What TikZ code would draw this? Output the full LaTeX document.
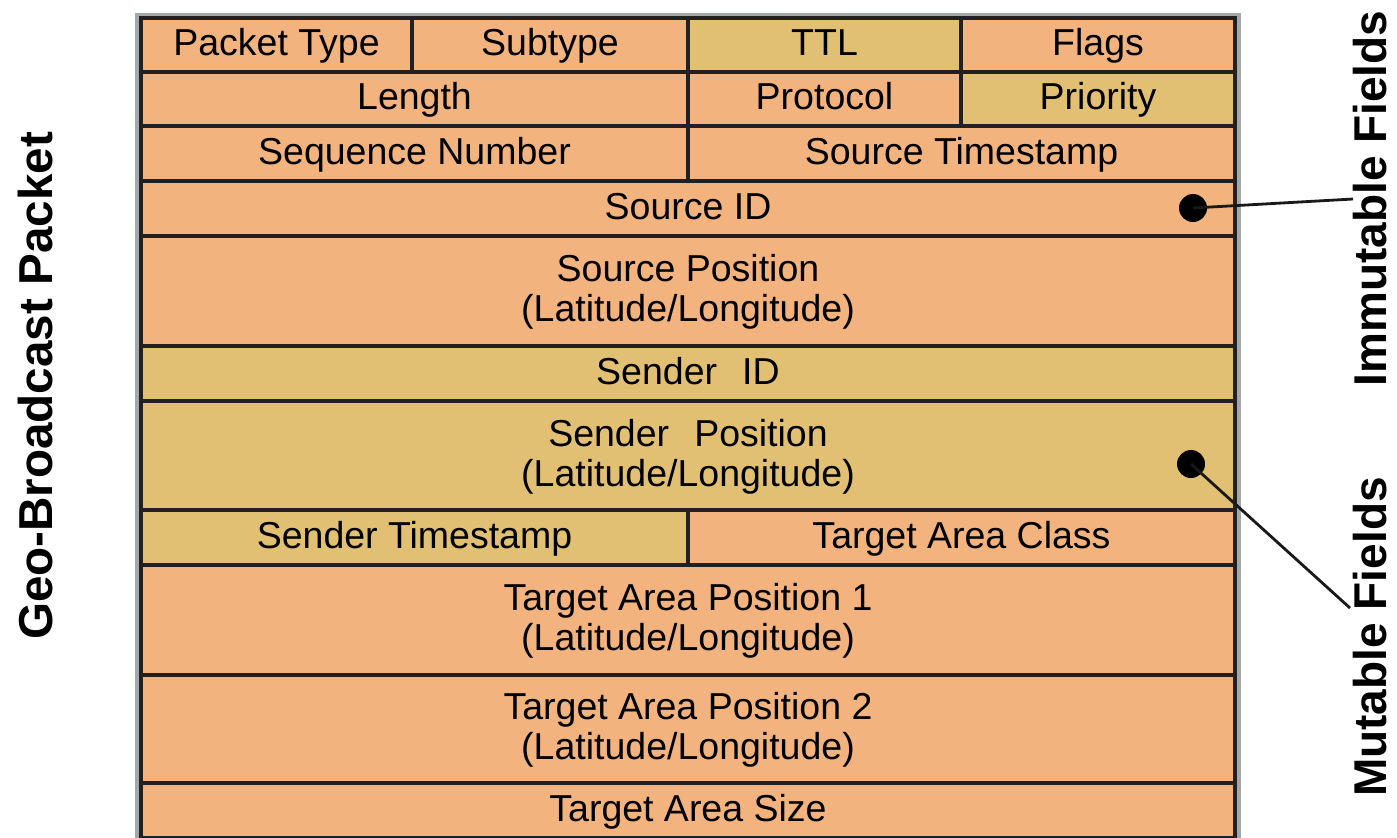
\documentclass[tikz,border=0pt]{standalone}
\usepackage{fontspec}
\setmainfont{Liberation Sans}
\definecolor{fieldorange}{HTML}{F3B37F}
\definecolor{fieldgold}{HTML}{E2C073}
\definecolor{gridline}{HTML}{222020}
\definecolor{frameshade}{HTML}{A3A8AC}
\newcommand{\cellfont}{\fontsize{18.75pt}{20pt}\selectfont}
% one field of the header: name, x1, y1, x2, y2, fill colour, text
\newcommand{\pktfield}[7]{%
  \path[fieldbox, fill=#6] (#2,#3) rectangle (#4,#5);
  \node[fld] (#1) at ({(#2+#4)/2},{(#3+#5)/2+1}) {#7};}
\newcommand{\pktfieldtwo}[7]{%
  \path[fieldbox, fill=#6] (#2,#3) rectangle (#4,#5);
  \node[fldtwo] (#1) at ({(#2+#4)/2},{(#3+#5)/2+1}) {#7};}
\begin{document}
\begin{tikzpicture}[x=0.5pt, y=-0.5pt,
  fieldbox/.style={draw=gridline, line width=2pt},
  fld/.style={font=\cellfont, text=black, inner sep=0pt, text height=13.7pt, text depth=3.9pt},
  fldtwo/.style={font=\cellfont, text=black, inner sep=0pt, align=center},
  sidelabel/.style={font=\bfseries\fontsize{23.8pt}{28pt}\selectfont, inner sep=0pt, rotate=90, anchor=base},
  marker/.style={circle, fill=black, inner sep=0pt, minimum size=14pt},
  pointer/.style={draw=black!90, line width=1.4pt}]
\useasboundingbox (0,0) rectangle (1397,837);
\clip (0,0) rectangle (1397,837);
\fill[white] (0,0) rectangle (1397,837);

% grey shading round the frame
\fill[frameshade] (135,13) rectangle (1241,845);

% row 1
\pktfield{ptype}{141}{18}{412}{72}{fieldorange}{Packet Type}
\pktfield{stype}{412}{18}{688}{72}{fieldorange}{Subtype}
\pktfield{ttl}{688}{18}{961}{72}{fieldgold}{TTL}
\pktfield{flags}{961}{18}{1235}{72}{fieldorange}{Flags}
% row 2
\pktfield{len}{141}{72}{688}{126}{fieldorange}{Length}
\pktfield{proto}{688}{72}{961}{126}{fieldorange}{Protocol}
\pktfield{prio}{961}{72}{1235}{126}{fieldgold}{Priority}
% row 3
\pktfield{seq}{141}{126}{688}{181}{fieldorange}{Sequence Number}
\pktfield{srcts}{688}{126}{1235}{181}{fieldorange}{Source Timestamp}
% rows 4 to 11
\pktfield{srcid}{141}{181}{1235}{236}{fieldorange}{Source ID}
\pktfieldtwo{srcpos}{141}{236}{1235}{346}{fieldorange}{Source Position\\(Latitude/Longitude)}
\pktfield{sndid}{141}{346}{1235}{401}{fieldgold}{Sender\hspace{0.67em}ID}
\pktfieldtwo{sndpos}{141}{401}{1235}{510}{fieldgold}{Sender\hspace{0.67em}Position\\(Latitude/Longitude)}
\pktfield{sndts}{141}{510}{688}{565}{fieldgold}{Sender Timestamp}
\pktfield{tclass}{688}{510}{1235}{565}{fieldorange}{Target Area Class}
\pktfieldtwo{tpos1}{141}{565}{1235}{675}{fieldorange}{Target Area Position 1\\(Latitude/Longitude)}
\pktfieldtwo{tpos2}{141}{675}{1235}{783}{fieldorange}{Target Area Position 2\\(Latitude/Longitude)}
\pktfield{tsize}{141}{783}{1235}{838}{fieldorange}{Target Area Size}

% side labels
\node[sidelabel] (packet) at (52,386) {Geo-Broadcast Packet};
\node[sidelabel, font=\bfseries\fontsize{23pt}{28pt}\selectfont] (immut) at (1386,198.5) {Immutable Fields};
\node[sidelabel, font=\bfseries\fontsize{23pt}{28pt}\selectfont] (mut) at (1386,637) {Mutable Fields};

% markers and pointers
\node[marker] (dotimm) at (1193,208) {};
\node[marker] (dotmut) at (1191,464) {};
\coordinate (endimm) at (1353,199);
\coordinate (endmut) at (1350,608);
\draw[pointer] (dotimm.center) -- (endimm);
\draw[pointer] (dotmut.center) -- (endmut);
\end{tikzpicture}
\end{document}
